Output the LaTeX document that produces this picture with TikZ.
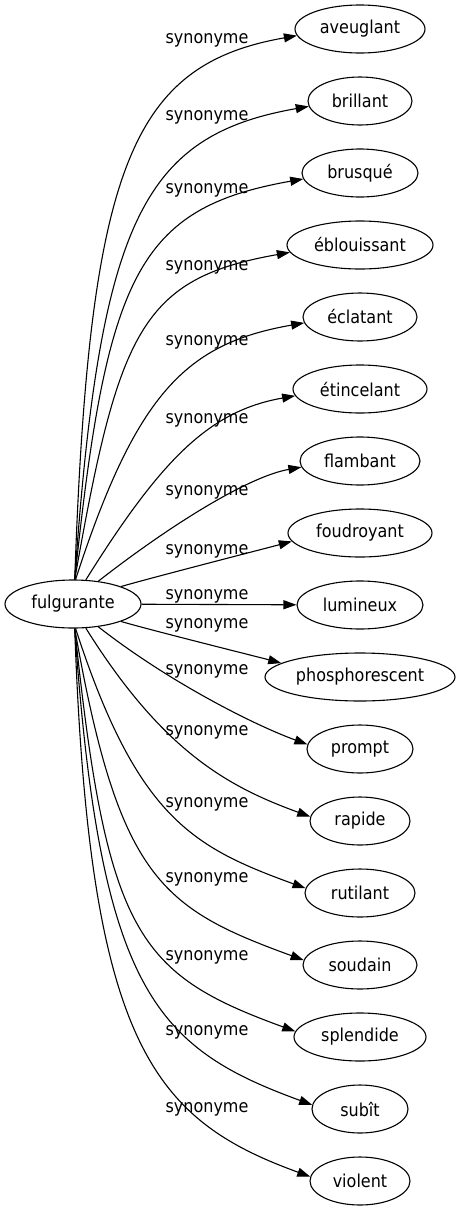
\documentclass[tikz,border=0pt]{standalone}
\usepackage{fontspec}
\setmainfont{DejaVu Sans}[FakeStretch=0.9]
\usetikzlibrary{arrows.meta,shapes.geometric}

\begin{document}
\begin{tikzpicture}[x=1pt,y=1pt,
    word/.style={draw,ellipse,inner sep=1pt,minimum height=48pt,line width=1.1pt,
      font=\fontsize{17.8}{20}\selectfont},
    rel/.style={font=\fontsize{17.8}{20}\selectfont,inner sep=0pt,anchor=base},
    syn/.style={-{Triangle[length=13pt,width=9pt]},line width=1.1pt}]
  \useasboundingbox (0,0) rectangle (460,-1211);
  \node[word,minimum width=136pt] (fulgurante) at (73,-604) {fulgurante};
  % one word every 72px, label next to its edge
  \foreach \i/\w/\ewidth/\ly in {0/aveuglant/130/38, 1/brillant/104/115, 2/brusqué/116/188,
      3/éblouissant/146/265, 4/éclatant/114/340, 5/étincelant/134/418, 6/flambant/120/490,
      7/foudroyant/144/549, 8/lumineux/126/594, 9/phosphorescent/190/623, 10/prompt/106/669,
      11/rapide/100/730, 12/rutilant/110/802, 13/soudain/114/877, 14/splendide/132/955,
      15/subît/96/1030, 16/violent/100/1107}{
    \node[word,minimum width=\ewidth pt] (t\i) at (360,-29-72*\i) {\w};
    \node[rel] (l\i) at (207,-\ly-5) {synonyme};
  }
  % edges going up
  \foreach \i/\sa/\oa/\ia/\ea in {0/86/88/190/186, 1/86/86/190/186, 2/86/84/190/186,
      3/86/80/190/186, 4/84/72/190/186, 5/62/58/190/186, 6/42/38/190/186, 7/20/16/195/187}{
    \pgfmathsetmacro\dy{581-29-72*\i}
    \pgfmathsetmacro\da{0.75*\dy}
    \pgfmathsetmacro\db{min(0.45*\dy,168)}
    \draw[syn] (fulgurante.\sa) to[out=\oa,in=\ia,out distance=\da pt,in distance=\db pt] (t\i.\ea);
  }
  \draw[syn] (fulgurante) -- (t8);
  % edges going down
  \foreach \i/\sa/\oa/\ia/\ea in {9/-20/-16/165/170, 10/-42/-38/160/175, 11/-62/-58/160/175,
      12/-84/-72/160/175, 13/-86/-80/160/175, 14/-86/-84/160/175, 15/-86/-86/160/175,
      16/-86/-88/160/175}{
    \pgfmathsetmacro\dy{29+72*\i-627}
    \pgfmathsetmacro\da{0.75*\dy}
    \pgfmathsetmacro\db{min(0.45*\dy,168)}
    \draw[syn] (fulgurante.\sa) to[out=\oa,in=\ia,out distance=\da pt,in distance=\db pt] (t\i.\ea);
  }
\end{tikzpicture}
\end{document}
